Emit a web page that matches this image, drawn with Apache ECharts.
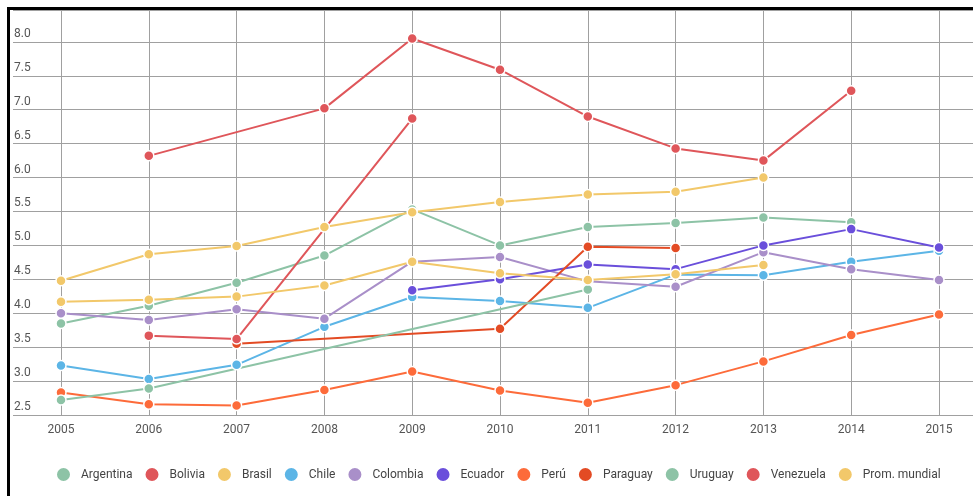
<!DOCTYPE html>
<html>
<head>
<meta charset="utf-8">
<script src="https://cdn.jsdelivr.net/npm/echarts@6/dist/echarts.min.js"></script>
<style>
html,body{margin:0;padding:0;background:#fff;}
#chart{width:973px;height:496px;}
</style>
</head>
<body>
<div id="chart"></div>
<script>
const years = ['2005','2006','2007','2008','2009','2010','2011','2012','2013','2014','2015'];
const yTicks = [2.5, 3.0, 3.5, 4.0, 4.5, 5.0, 5.5, 6.0, 6.5, 7.0, 7.5, 8.0];
const argentina = [3.85, 4.11, 4.45, 4.85, 5.53, 5.00, 5.27, 5.33, 5.41, 5.34, null];
const bolivia   = [null, 6.32, null, 7.02, 8.05, 7.59, 6.90, 6.43, 6.25, 7.28, null];
const brasil    = [4.48, 4.87, 4.99, 5.27, 5.49, 5.64, 5.75, 5.79, 6.00, null, null];
const chile     = [3.23, 3.03, 3.24, 3.80, 4.24, 4.18, 4.08, 4.57, 4.56, 4.76, 4.92];
const colombia  = [4.00, 3.90, 4.06, 3.92, 4.76, 4.83, 4.47, 4.39, 4.90, 4.65, 4.49];
const ecuador   = [null, null, null, null, 4.34, 4.50, 4.72, 4.65, 5.00, 5.24, 4.97];
const peru      = [2.83, 2.66, 2.64, 2.87, 3.14, 2.86, 2.68, 2.94, 3.29, 3.68, 3.98];
const paraguay  = [null, null, 3.55, null, null, 3.77, 4.98, 4.96, null, null, null];
const uruguay   = [2.72, 2.89, null, null, null, null, 4.35, null, null, null, null];
const venezuela = [null, 3.67, 3.62, null, 6.87, null, null, null, null, null, null];
const mundial   = [4.17, 4.20, 4.245, 4.41, 4.76, 4.59, 4.49, 4.575, 4.71, null, null];

const seriesNames = ['Argentina','Bolivia','Brasil','Chile','Colombia','Ecuador','Perú','Paraguay','Uruguay','Venezuela','Prom. mundial'];
const seriesData = [argentina, bolivia, brasil, chile, colombia, ecuador, peru, paraguay, uruguay, venezuela, mundial];
const colors = ['#8dc3a6','#df565a','#f2c86a','#5cb5e6','#a98fc9','#6a4fdb','#fd6b3a','#e34b24','#8dc3a6','#df565a','#f2c86a'];

const yMin = 2.5, yMax = 8.47, yStep = 0.5;
const FONT = 'Roboto';

const chart = echarts.init(document.getElementById('chart'), null, {renderer:'canvas'});
chart.setOption({
  animation: false,
  backgroundColor: '#fff',
  textStyle: {fontFamily: FONT},
  color: colors,
  graphic: [
    {type:'rect', shape:{x:7, y:7, width:966, height:3}, style:{fill:'#000'}, z:100},
    {type:'rect', shape:{x:7, y:7, width:3, height:489}, style:{fill:'#000'}, z:100}
  ],
  legend: {
    left: 55, top: 466, padding: 0,
    icon: 'circle', itemWidth: 15, itemHeight: 15, itemGap: 11,
    textStyle: {fontFamily: FONT, fontSize: 12, color: '#444', padding: [0,0,0,5]},
    data: seriesNames
  },
  grid: [
    {left: 13, right: 0, top: 10, bottom: 81},
    {left: 61, right: 34, top: 10, bottom: 81}
  ],
  xAxis: [
    {gridIndex: 0, type: 'value', min: 0, max: 1, show: false},
    {gridIndex: 1, type: 'category', data: years, boundaryGap: false,
     axisLine: {show: false}, axisTick: {show: false},
     axisLabel: {color: '#555', fontSize: 12, fontFamily: FONT, margin: 9},
     splitLine: {show: true, lineStyle: {color: '#a0a0a0', width: 1}}}
  ],
  yAxis: [
    {gridIndex: 0, type: 'value', min: yMin, max: yMax, interval: yStep,
     axisLine: {show: false}, axisTick: {show: false},
     axisLabel: {inside: true, margin: 1, verticalAlign: 'bottom', padding: [0,0,2,0],
       color: '#555', fontSize: 12, fontFamily: FONT,
       formatter: function(v){ return yTicks.some(t => Math.abs(t - v) < 1e-6) ? v.toFixed(1) : ''; }},
     splitLine: {show: true, lineStyle: {color: '#a0a0a0', width: 1}}},
    {gridIndex: 1, type: 'value', min: yMin, max: yMax, interval: yStep, show: false,
     splitLine: {show: false}}
  ],
  series: seriesNames.map((n, i) => ({
    name: n, type: 'line', xAxisIndex: 1, yAxisIndex: 1,
    data: seriesData[i], connectNulls: true,
    symbol: 'circle', symbolSize: 10, showSymbol: true,
    lineStyle: {width: 2, color: colors[i]},
    itemStyle: {color: colors[i], borderColor: '#fff', borderWidth: 1.5}
  }))
});
</script>
</body>
</html>
